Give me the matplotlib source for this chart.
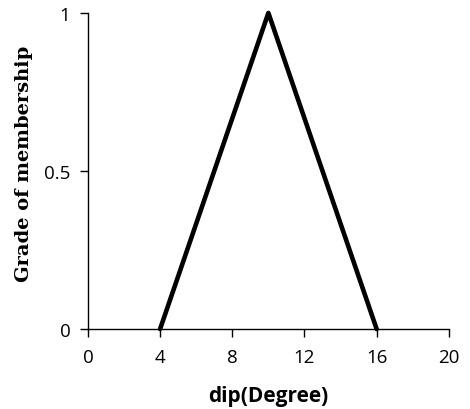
import matplotlib.pyplot as plt

### ------------------------------ Data ------------------------------ ###

dip = [4, 10, 16]          # degrees
membership = [0, 1, 0]     # triangular membership grade

x_ticks = [0, 4, 8, 12, 16, 20]
y_ticks = [0, 0.5, 1]
y_tick_labels = ["0", "0.5", "1"]

### ------------------------------ Plot ------------------------------ ###

fig = plt.figure(figsize=(4.7, 4.1), dpi=100)
ax = fig.add_axes([0.187, 0.195, 0.768, 0.771])

# triangular membership function, round joins like the source chart
ax.plot(dip, membership, color="black", linewidth=3.3,
        solid_joinstyle="round", solid_capstyle="round", clip_on=False)

ax.set_xlim(0, 20)
ax.set_ylim(0, 1)
ax.set_xticks(x_ticks)
ax.set_yticks(y_ticks)
ax.set_yticklabels(y_tick_labels)

for side in ["top", "right"]:
    ax.spines[side].set_visible(False)
for side in ["left", "bottom"]:
    ax.spines[side].set_linewidth(1.0)

ax.tick_params(direction="out", length=6, width=1.0, labelsize=13.5)
ax.tick_params(axis="x", pad=8)
ax.tick_params(axis="y", pad=6.5)
for lab in ax.get_xticklabels() + ax.get_yticklabels():
    lab.set_family("Open Sans")

ax.set_xlabel("dip(Degree)", fontsize=15, fontweight="bold", family="Open Sans", labelpad=13)
ax.set_ylabel("Grade of membership", fontsize=14, fontweight="bold", family="DejaVu Serif",
              labelpad=8, y=0.525)

fig.savefig("out.png", dpi=100)
